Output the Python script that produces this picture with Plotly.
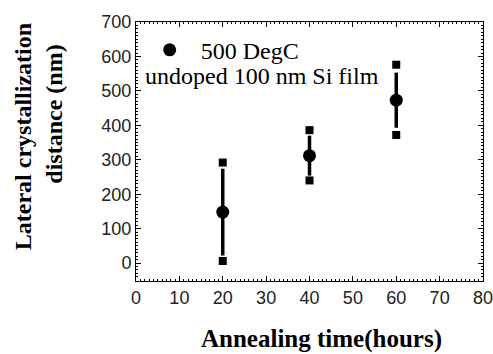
import plotly.graph_objects as go

# Data
time_h = [20, 40, 60]
mean_nm = [148, 312, 473]
err_nm = [126, 58, 80]
min_nm = [6, 240, 372]
max_nm = [292, 386, 576]
x_ticks = [0, 10, 20, 30, 40, 50, 60, 70, 80]
y_ticks = [0, 100, 200, 300, 400, 500, 600, 700]

serif = "Liberation Serif"
sans = "Liberation Sans"

fig = go.Figure()
# min / max squares
fig.add_trace(go.Scatter(x=time_h + time_h, y=min_nm + max_nm, mode="markers",
                         marker=dict(symbol="square", size=8, color="black"),
                         showlegend=False, hoverinfo="skip"))
# mean with error bars
fig.add_trace(go.Scatter(x=time_h, y=mean_nm, mode="markers",
                         name="\u00a0500 DegC",
                         marker=dict(symbol="circle", size=13, color="black"),
                         error_y=dict(type="data", array=err_nm, visible=True,
                                      color="black", thickness=3.5, width=0),
                         showlegend=True))

axis_common = dict(showline=True, linecolor="black", linewidth=1, mirror="ticks",
                   ticks="inside", ticklen=5, tickcolor="black", showgrid=False,
                   zeroline=False, automargin=False,
                   tickfont=dict(family=sans, size=18, color="#222"))

fig.update_xaxes(range=[0, 80], tickvals=x_ticks, ticklabeloverflow="allow",
                 minor=dict(dtick=1, ticks="inside", ticklen=2, tickcolor="black"),
                 **axis_common)
fig.update_yaxes(range=[-52, 700], tickvals=y_ticks,
                 minor=dict(dtick=10, ticks="inside", ticklen=2, tickcolor="black"),
                 **axis_common)

fig.update_layout(
    width=493, height=354,
    margin=dict(l=136, r=10, t=22, b=73),
    plot_bgcolor="white", paper_bgcolor="white",
    legend=dict(x=0.025, y=0.978, xanchor="left", yanchor="top",
                bgcolor="rgba(0,0,0,0)", font=dict(family=serif, size=24, color="black"),
                itemwidth=40, tracegroupgap=0),
    annotations=[
        dict(text="undoped 100 nm Si film", xref="paper", yref="paper",
             x=0.019, y=0.79, xanchor="left", yanchor="middle", showarrow=False,
             font=dict(family=serif, size=24, color="black")),
        dict(text="<b>Annealing time(hours)</b>", xref="paper", yref="paper",
             x=0.535, y=-0.224, xanchor="center", yanchor="middle", showarrow=False,
             font=dict(family=serif, size=25, color="black")),
        dict(text="<b>Lateral crystallization</b>", xref="paper", yref="paper",
             x=-0.325, y=0.556, xanchor="center", yanchor="middle", showarrow=False,
             textangle=-90, font=dict(family=serif, size=24, color="black")),
        dict(text="<b>distance (nm)</b>", xref="paper", yref="paper",
             x=-0.237, y=0.645, xanchor="center", yanchor="middle", showarrow=False,
             textangle=-90, font=dict(family=serif, size=24, color="black")),
    ],
)

fig.write_html("out.html", config={"displayModeBar": False},
               post_script="document.body.style.margin='0';document.body.style.overflow='hidden';")
